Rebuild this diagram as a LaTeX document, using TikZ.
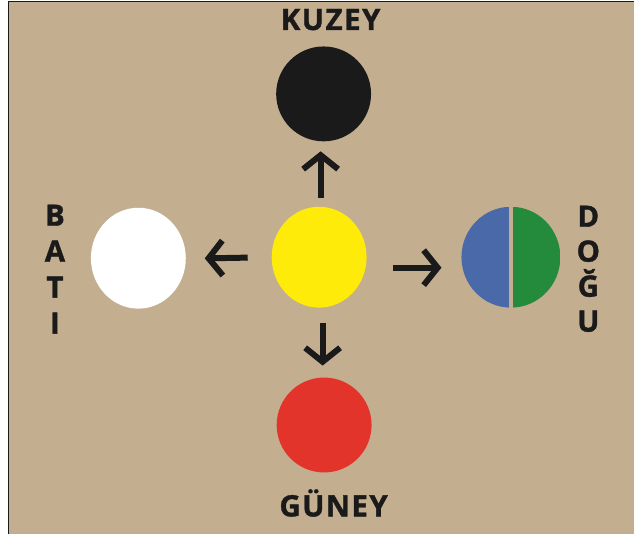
\documentclass[tikz,border=0pt]{standalone}
\usepackage{fontspec}
\setmainfont{Open Sans}[BoldFeatures={FakeBold=1.2, LetterSpace=5}]
\usetikzlibrary{shapes.geometric,arrows.meta}

\definecolor{kum}{HTML}{C4AE90}
\definecolor{kara}{HTML}{1A1A1A}
\definecolor{sari}{HTML}{FFEB0A}
\definecolor{kizil}{HTML}{E3342B}
\definecolor{mavi}{HTML}{4A69A8}
\definecolor{yesil}{HTML}{248A3C}

\tikzset{
  disk/.style={ellipse, draw=none, inner sep=0pt, outer sep=0pt,
               minimum width=95pt, minimum height=95pt},
  yon/.style={font=\bfseries\fontsize{29.5}{35}\selectfont, text=kara,
              inner sep=0pt, anchor=base},
  ok/.style={draw=kara, line width=6pt,
             -{Straight Barb[length=14pt,width=35pt]}},
}

\begin{document}
\begin{tikzpicture}[x=1pt, y=-1pt]
  % page, frame and backdrop
  \fill[white] (0,0) rectangle (635,535);
  \fill[kum] (9,2) rectangle (635,535);
  \draw[kara, line width=1.5pt] (8.75,535) -- (8.75,1.75) -- (635,1.75);
  \useasboundingbox (0,0) rectangle (635,535);

  % the five discs
  \node[disk, fill=sari, minimum height=101pt] (merkez) at (319.5,257.5) {};
  \node[disk, fill=kara] (kuzey) at (324,94) {};
  \node[disk, fill=kizil] (guney) at (324.5,425.5) {};
  \node[disk, fill=white, minimum height=101pt] (bati) at (138.5,258.5) {};
  \node[disk, minimum width=99pt, minimum height=101pt] (dogu) at (511.5,257.5) {};

  % east disc split into a blue and a green half
  \begin{scope}
    \clip (dogu.center) ellipse [x radius=49.5pt, y radius=50.5pt];
    \fill[mavi] ([xshift=-1.8pt]dogu.north) rectangle (dogu.west |- dogu.south);
    \fill[yesil] ([xshift=1.8pt]dogu.north) rectangle (dogu.east |- dogu.south);
  \end{scope}

  % direction arrows
  \draw[ok, shorten <=9pt, shorten >=10pt]
    ([xshift=1.5pt]merkez.north) -- ([xshift=-3pt]kuzey.south);
  \draw[ok, shorten <=15pt, shorten >=12pt]
    ([xshift=3.5pt]merkez.south) -- ([xshift=-1.5pt]guney.north);
  \draw[ok, shorten <=24pt, shorten >=19pt]
    (merkez.west) -- ([yshift=-0.5pt]bati.east);
  \draw[ok, shorten <=26pt, shorten >=20pt]
    ([yshift=-10.5pt]merkez.east) -- ([yshift=-10.5pt]dogu.west);

  % labels
  \node[yon] (lkuzey) at (331,30) {KUZEY};
  \node[yon] (lguney) at (334,517) {GÜNEY};
  \foreach \h/\y [count=\i] in {B/226,A/262,T/298,I/334}
    \node[yon] (lbati\i) at (55,\y) {\h};
  \foreach \h/\y [count=\i] in {D/227,O/262,Ğ/297,U/332}
    \node[yon] (ldogu\i) at (589,\y) {\h};
\end{tikzpicture}
\end{document}
